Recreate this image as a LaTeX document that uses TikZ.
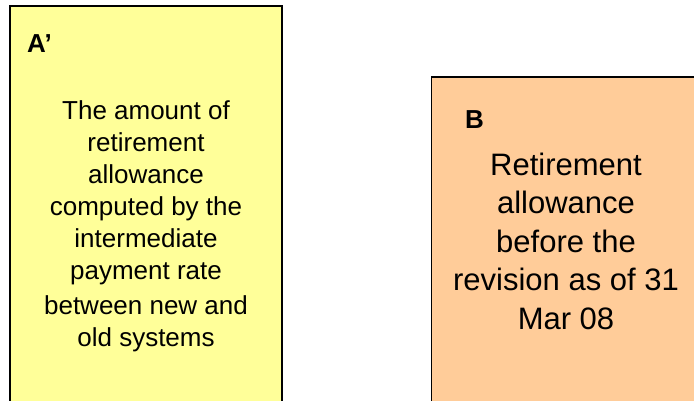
\documentclass[tikz,border=0pt]{standalone}
\usepackage{fontspec}
\setmainfont{Liberation Sans}
\definecolor{paleyellow}{HTML}{FFFF99}
\definecolor{paleorange}{HTML}{FFCC99}

\begin{document}
\begin{tikzpicture}[x=1pt,y=-1pt,
                    box/.style={draw,line width=1.5pt,inner sep=0pt},
                    tag/.style={anchor=base west,inner sep=0pt,font=\fontsize{26}{32}\selectfont\bfseries},
                    body/.style={anchor=base,inner sep=0pt,align=center}]
  \useasboundingbox (0,0) rectangle (694,400);
  \clip (0,0) rectangle (694,400);
  % the two boxes, both running off the lower edge
  \node[box,fill=paleyellow,minimum width=272pt,minimum height=414pt] (boxa) at (146,213) {};
  \node[box,fill=paleorange,minimum width=270pt,minimum height=343pt] (boxb) at (566.5,248.5) {};
  \node[tag] (taga) at (27,52) {A’};
  \node[tag] (tagb) at (465,128) {B};
  % base anchor sits on the last line
  \node[body,font=\fontsize{26}{32}\selectfont] (texta) at (146,346)
    {The amount of\\ retirement\\ allowance\\ computed by the\\ intermediate\\ payment rate\\[3pt] between new and\\ old systems};
  \node[body,font=\fontsize{31}{38.5}\selectfont] (textb) at (566,329)
    {Retirement\\ allowance\\ before the\\ revision as of 31\\ Mar 08};
\end{tikzpicture}
\end{document}
